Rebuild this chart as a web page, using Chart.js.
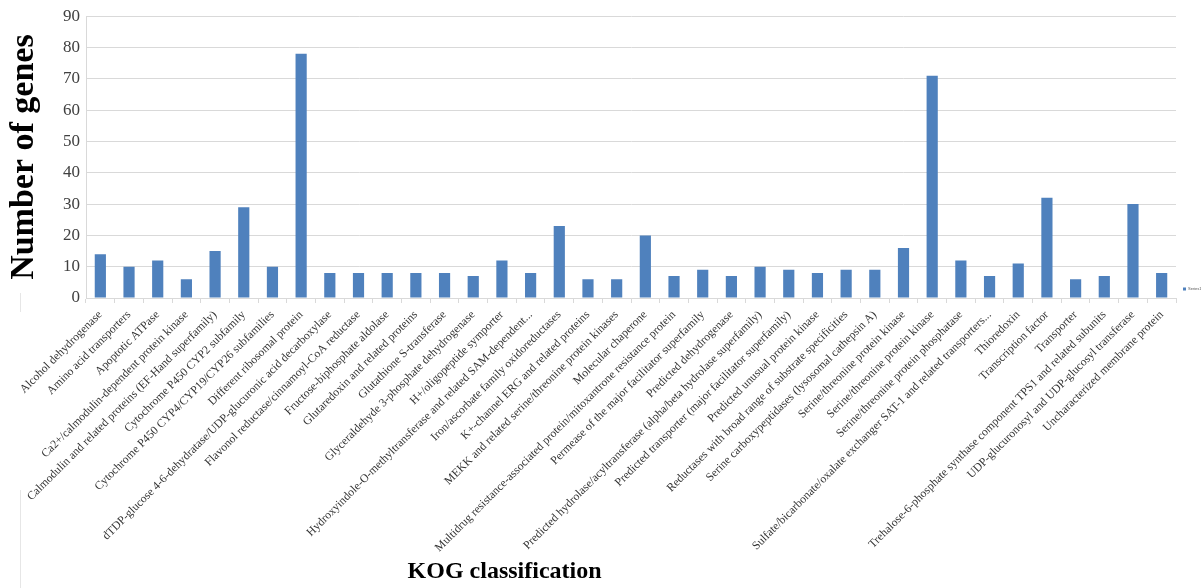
<!DOCTYPE html>
<html>
<head>
<meta charset="utf-8">
<title>KOG classification</title>
<script src="https://cdn.jsdelivr.net/npm/chart.js@4.4.1/dist/chart.umd.min.js"></script>
<style>
  html, body { margin: 0; padding: 0; background: #ffffff; }
  #wrap { position: relative; width: 1201px; height: 588px; }
</style>
</head>
<body>
<div id="wrap"><canvas id="kog" width="1201" height="588"></canvas></div>
<script>
// KOG categories and gene counts
const categories = [
  'Alcohol dehydrogenase',
  'Amino acid transporters',
  'Apoptotic ATPase',
  'Ca2+/calmodulin-dependent protein kinase',
  'Calmodulin and related proteins (EF-Hand superfamily)',
  'Cytochrome P450 CYP2 subfamily',
  'Cytochrome P450 CYP4/CYP19/CYP26 subfamilies',
  'Different ribosomal protein',
  'dTDP-glucose 4-6-dehydratase/UDP-glucuronic acid decarboxylase',
  'Flavonol reductase/cinnamoyl-CoA reductase',
  'Fructose-biphosphate aldolase',
  'Glutaredoxin and related proteins',
  'Glutathione S-transferase',
  'Glyceraldehyde 3-phosphate dehydrogenase',
  'H+/oligopeptide symporter',
  'Hydroxyindole-O-methyltransferase and related SAM-dependent...',
  'Iron/ascorbate family oxidoreductases',
  'K+-channel ERG and related proteins',
  'MEKK and related serine/threonine protein kinases',
  'Molecular chaperone',
  'Multidrug resistance-associated protein/mitoxantrone resistance protein',
  'Permease of the major facilitator superfamily',
  'Predicted dehydrogenase',
  'Predicted hydrolase/acyltransferase (alpha/beta hydrolase superfamily)',
  'Predicted transporter (major facilitator superfamily)',
  'Predicted unusual protein kinase',
  'Reductases with broad range of substrate specificities',
  'Serine carboxypeptidases (lysosomal cathepsin A)',
  'Serine/threonine protein kinase',
  'Serine/threonine protein kinase',
  'Serine/threonine protein phosphatase',
  'Sulfate/bicarbonate/oxalate exchanger SAT-1 and related transporters...',
  'Thioredoxin',
  'Transcription factor',
  'Transporter',
  'Trehalose-6-phosphate synthase component TPS1 and related subunits',
  'UDP-glucuronosyl and UDP-glucosyl transferase',
  'Uncharacterized membrane protein'
];

const geneCounts = [
  14, 10, 12, 6, 15, 29, 10, 78, 8, 8,
  8, 8, 8, 7, 12, 8, 23, 6, 6, 20,
  7, 9, 7, 10, 9, 8, 9, 9, 16, 71,
  12, 7, 11, 32, 6, 7, 30, 8
];

const seriesName = 'Series1';
const yTicks = [0, 10, 20, 30, 40, 50, 60, 70, 80, 90];

// Bold axis caption under the rotated category labels, plus the faint frame edge
const captionPlugin = {
  id: 'caption',
  afterDraw(chart) {
    const ctx = chart.ctx;
    const area = chart.chartArea;
    ctx.save();
    ctx.font = 'bold 24px "Liberation Serif", "Times New Roman", serif';
    ctx.fillStyle = '#000000';
    ctx.textAlign = 'center';
    ctx.textBaseline = 'middle';
    ctx.fillText('KOG classification', area.left + (area.right - area.left) * 0.384, 572);
    ctx.strokeStyle = '#e6e6e6';
    ctx.lineWidth = 1;
    ctx.beginPath();
    ctx.moveTo(20.5, 293); ctx.lineTo(20.5, 312);
    ctx.moveTo(20.5, 490); ctx.lineTo(20.5, 588);
    ctx.stroke();
    ctx.restore();
  }
};

new Chart(document.getElementById('kog'), {
  type: 'bar',
  data: {
    labels: categories,
    datasets: [{
      label: seriesName,
      data: geneCounts,
      backgroundColor: '#4f81bd',
      borderWidth: 0,
      categoryPercentage: 1.0,
      barPercentage: 0.39
    }]
  },
  options: {
    responsive: false,
    animation: false,
    devicePixelRatio: 1,
    layout: { padding: { top: 3, right: 0, bottom: 0, left: 0 } },
    plugins: {
      tooltip: { enabled: false },
      legend: {
        position: 'right',
        align: 'end',
        fullSize: false,
        maxWidth: 25,
        labels: {
          boxWidth: 3,
          boxHeight: 3,
          padding: 7,
          color: '#595959',
          font: { family: 'Arial, "Liberation Sans", sans-serif', size: 4 }
        }
      }
    },
    scales: {
      x: {
        offset: true,
        grid: {
          offset: true,
          drawOnChartArea: false,
          drawTicks: true,
          tickLength: 5,
          color: '#d9d9d9'
        },
        border: { display: true, color: '#d9d9d9' },
        ticks: {
          autoSkip: false,
          maxRotation: 45,
          minRotation: 45,
          padding: 5,
          color: '#333333',
          font: { family: '"Liberation Serif", "Times New Roman", serif', size: 11.7 }
        },
        afterFit(scale) { scale.height = 290; }
      },
      y: {
        min: 0,
        max: 90,
        afterBuildTicks(scale) { scale.ticks = yTicks.map(v => ({ value: v })); },
        grid: { color: '#d9d9d9', drawTicks: false },
        border: { display: true, color: '#d9d9d9' },
        ticks: {
          padding: 6,
          color: '#404040',
          font: { family: '"Liberation Serif", "Times New Roman", serif', size: 17 }
        },
        title: {
          display: true,
          text: 'Number of genes',
          color: '#000000',
          padding: { top: 4, bottom: 0 },
          font: { family: '"Liberation Serif", "Times New Roman", serif', size: 34, weight: 'bold' }
        },
        afterFit(scale) { scale.width = 86; }
      }
    }
  },
  plugins: [captionPlugin]
});
</script>
</body>
</html>
